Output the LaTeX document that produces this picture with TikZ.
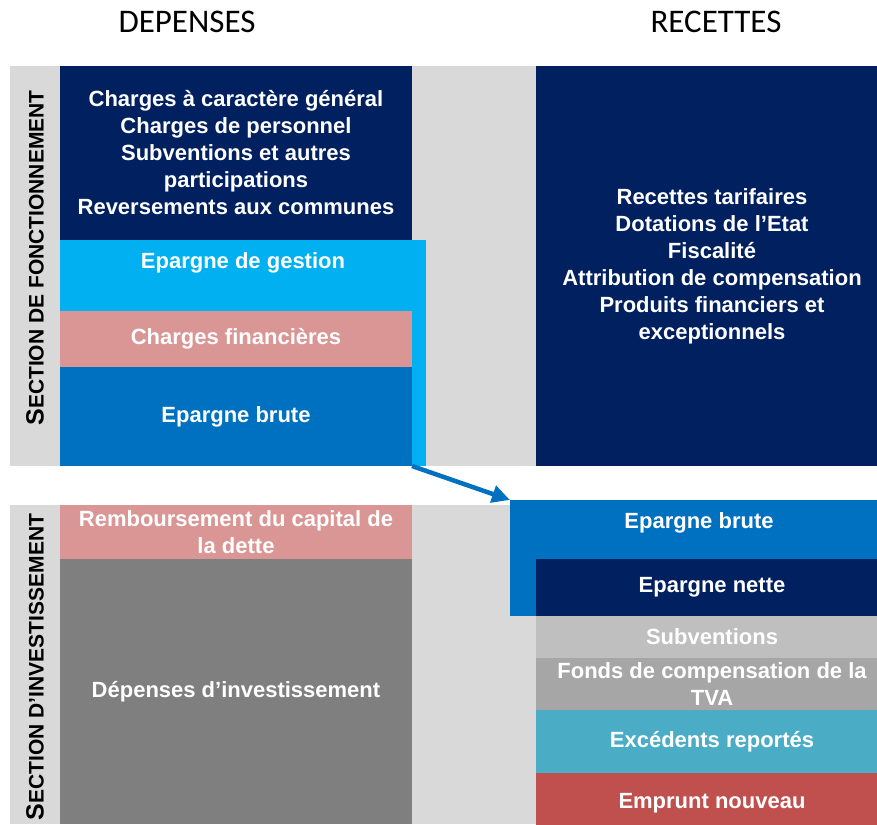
\documentclass[tikz,border=0pt]{standalone}
\usepackage{fontspec}
\setmainfont{Liberation Sans}
\newfontfamily\titlefont{Carlito}
\usetikzlibrary{arrows.meta}
\definecolor{navy}{HTML}{002060}
\definecolor{skyblue}{HTML}{00B0F0}
\definecolor{midblue}{HTML}{0070C0}
\definecolor{rosy}{HTML}{D99694}
\definecolor{bggray}{HTML}{D9D9D9}
\definecolor{darkgray}{HTML}{7F7F7F}
\definecolor{lightgray}{HTML}{BFBFBF}
\definecolor{midgray}{HTML}{A6A6A6}
\definecolor{teal}{HTML}{4BACC6}
\definecolor{brick}{HTML}{C0504D}
\tikzset{
  blk/.style={fill=#1, inner sep=0pt, outer sep=0pt, anchor=north west, text=white, align=center, font=\bfseries\fontsize{22}{27}\selectfont},
  txt/.style={text=white, align=center, inner sep=0pt, font=\bfseries\fontsize{22}{27}\selectfont},
  sect/.style={rotate=90, inner sep=0pt, font=\bfseries},
  ttl/.style={inner sep=0pt, font=\titlefont\fontsize{33}{38}\selectfont}
}
\begin{document}
\begin{tikzpicture}[x=1pt,y=-1pt]
 \useasboundingbox (0,0) rectangle (877,824);
 \clip (0,0) rectangle (877,824);
 \node[ttl] (dep) at (187,22) {DEPENSES};
 \node[ttl] (rec) at (716,22) {RECETTES};
 \fill[bggray] (10,66) rectangle (877,466);
 \fill[bggray] (10,505) rectangle (877,824);
 \node[sect] (fonct) at (35,258) {\fontsize{25}{29}\selectfont S\fontsize{21}{25}\selectfont ECTION DE FONCTIONNEMENT};
 \node[sect] (invest) at (35,667) {\fontsize{25}{29}\selectfont S\fontsize{21}{25}\selectfont ECTION D’INVESTISSEMENT};
 \node[blk=navy, minimum width=352pt, minimum height=174pt] (charges) at (60,66) {Charges à caractère général\\Charges de personnel\\Subventions et autres\\participations\\Reversements aux communes};
 \node[blk=skyblue, minimum width=366pt, minimum height=226pt] (gestion) at (60,240) {};
 \node[txt] (gestiontxt) at (243,263) {Epargne de gestion};
 \node[blk=rosy, minimum width=352pt, minimum height=56pt] (financ) at (60,311) {Charges financières};
 \node[blk=midblue, minimum width=352pt, minimum height=99pt] (brute) at (60,367) {Epargne brute};
 \node[blk=navy, minimum width=352pt, minimum height=400pt] (recettes) at (536,66) {Recettes tarifaires\\Dotations de l’Etat\\Fiscalité\\Attribution de compensation\\Produits financiers et\\exceptionnels};
 \node[blk=rosy, minimum width=352pt, minimum height=54pt] (rembours) at (60,505) {Remboursement du capital de\\la dette};
 \node[blk=darkgray, minimum width=352pt, minimum height=265pt] (depinv) at (60,559) {Dépenses d’investissement};
 \node[blk=midblue, minimum width=378pt, minimum height=116pt] (brute2) at (510,500) {};
 \node[txt] (brute2txt) at (699,523) {Epargne brute};
 \node[blk=navy, minimum width=352pt, minimum height=57pt] (nette) at (536,559) {Epargne nette};
 \node[blk=lightgray, minimum width=352pt, minimum height=42pt] (subv) at (536,616) {Subventions};
 \node[blk=midgray, minimum width=352pt, minimum height=52pt] (fctva) at (536,658) {Fonds de compensation de la\\TVA};
 \node[blk=teal, minimum width=352pt, minimum height=63pt] (excedents) at (536,710) {Excédents reportés};
 \node[blk=brick, minimum width=352pt, minimum height=60pt] (emprunt) at (536,773) {Emprunt nouveau};
 \draw[midblue, line width=4.5pt, -{Triangle[length=18pt,width=17pt]}] (brute.south east) -- (brute2.north west);
\end{tikzpicture}
\end{document}
